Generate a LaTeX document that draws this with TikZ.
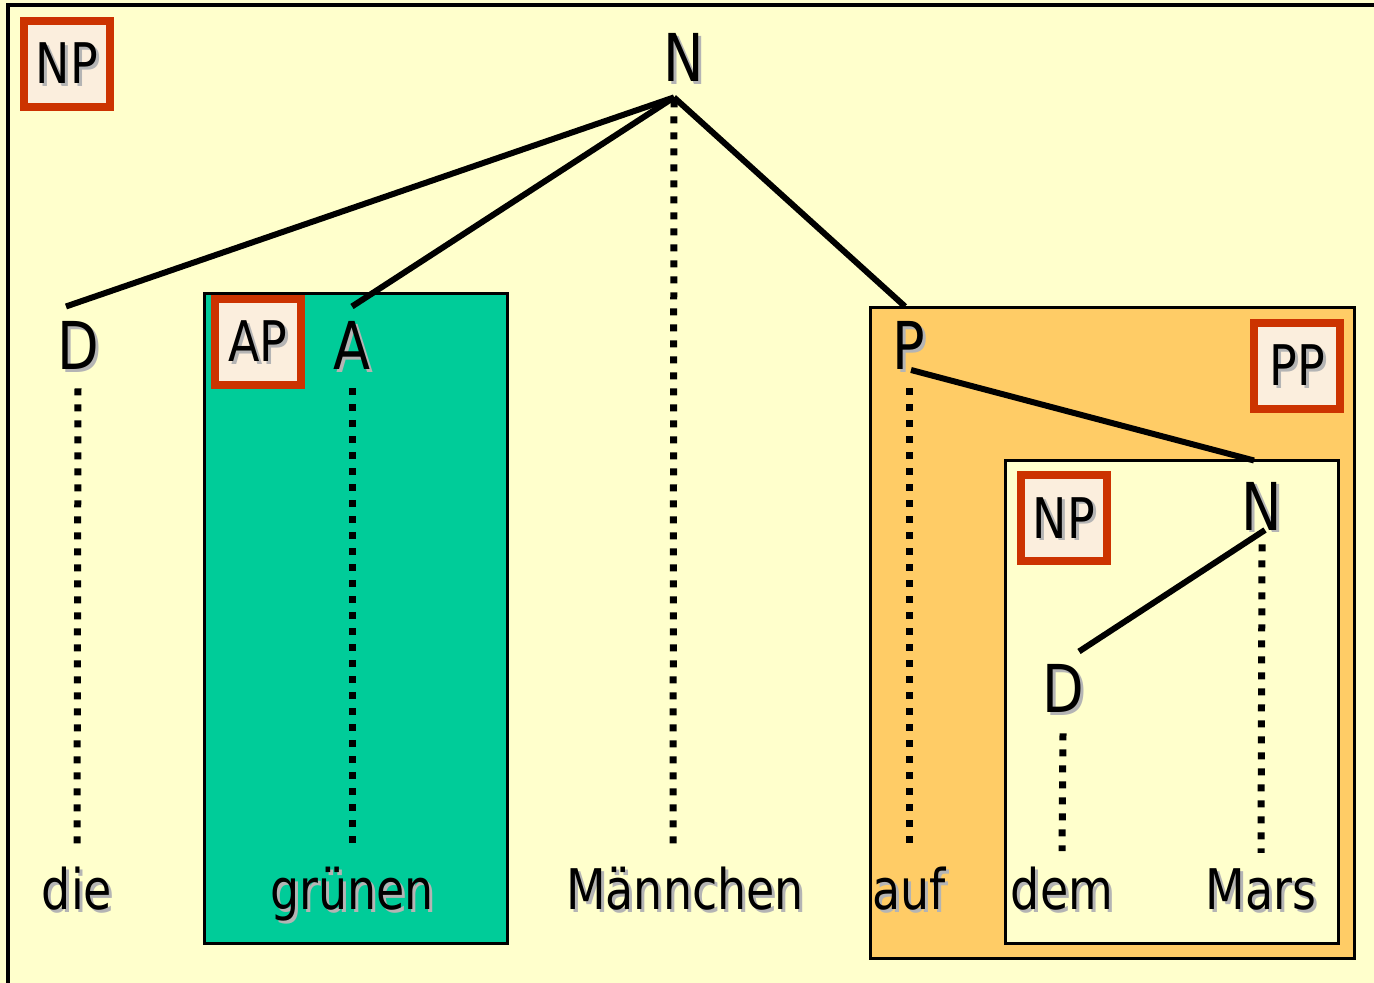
\documentclass[tikz,border=0pt]{standalone}
\usepackage{fontspec}
\setmainfont{DejaVu Sans}[FakeStretch=0.82]
\definecolor{paleyellow}{HTML}{FFFFCC}
\definecolor{apgreen}{HTML}{00CC99}
\definecolor{pporange}{HTML}{FFCC66}
\definecolor{labelred}{HTML}{CC3300}
\definecolor{labelfill}{HTML}{FBEEDD}
\definecolor{shadowgray}{HTML}{B4B4B4}
\newcommand\shtxt[1]{\makebox[0pt][l]{\hspace{1.5pt}\raisebox{-1.5pt}{\textcolor{shadowgray}{#1}}}#1}
\newcommand\catsize{\fontsize{33}{40}\selectfont}
\newcommand\wordsize{\fontsize{28}{34}\selectfont}

\begin{document}
\begin{tikzpicture}[x=0.5pt,y=-0.5pt,
  lbl/.style={draw=labelred,line width=4pt,fill=labelfill,minimum width=43pt,minimum height=43pt,inner sep=0pt,text height=20pt,text depth=0pt,font=\wordsize},
  cat/.style={font=\catsize,inner sep=7.5pt,anchor=base},
  word/.style={font=\wordsize,inner sep=7.5pt,anchor=base},
  tree/.style={line width=3pt},
  dots/.style={line width=3.5pt,dash pattern=on 3.5pt off 4.5pt},
  region/.style={draw,line width=1.5pt}]
\useasboundingbox (0,0) rectangle (1374,983);
\fill[paleyellow] (0,0) rectangle (1374,983);
\draw[line width=2pt] (8,983) -- (8,5) -- (1374,5);
\draw[region,fill=apgreen] (204,294) rectangle (507,943);
\draw[region,fill=pporange] (870,308) rectangle (1354,958);
\draw[region,fill=paleyellow] (1005,460) rectangle (1338,943);
\node[lbl] (np1) at (67,64) {\shtxt{NP}};
\node[lbl] (ap) at (258,342) {\shtxt{AP}};
\node[lbl] (pp) at (1297,366) {\shtxt{PP}};
\node[lbl] (np2) at (1064,518) {\shtxt{NP}};
\node[cat] (n1) at (684,82) {\shtxt{N}};
\node[cat] (d1) at (78,370) {\shtxt{D}};
\node[cat] (a1) at (352,370) {\shtxt{A}};
\node[cat] (p1) at (909,370) {\shtxt{P}};
\node[cat] (n2) at (1262,530) {\shtxt{N}};
\node[cat] (d2) at (1063,712) {\shtxt{D}};
\node[word] (w1) at (77,909) {\shtxt{die}};
\node[word] (w2) at (352,909) {\shtxt{grünen}};
\node[word] (w3) at (685,909) {\shtxt{Männchen}};
\node[word] (w4) at (909,909) {\shtxt{auf}};
\node[word] (w5) at (1062,909) {\shtxt{dem}};
\node[word] (w6) at (1261,909) {\shtxt{Mars}};
\draw[tree] ([xshift=-5pt,yshift=1.5pt]n1.south) -- ([xshift=-6pt]d1.north);
\draw[tree] ([xshift=-5pt,yshift=1.5pt]n1.south) -- (a1.north);
\draw[tree] ([xshift=-5pt,yshift=1.5pt]n1.south) -- ([xshift=-2pt]p1.north);
\draw[tree] ([xshift=1pt]p1.base) -- ([xshift=-4pt,yshift=3pt]n2.north);
\draw[tree] ([xshift=1.5pt]n2.base) -- ([xshift=8pt,yshift=-1.5pt]d2.north);
\draw[dots] ([xshift=-5pt]n1.south) -- ([xshift=-6pt]w3.north);
\draw[dots] (d1.south) -- (w1.north);
\draw[dots] (a1.south) -- (w2.north);
\draw[dots] (p1.south) -- (w4.north);
\draw[dots] ([yshift=2pt]n2.south) -- (w6.north);
\draw[dots] ([yshift=-1.5pt]d2.south) -- (w5.north);
\end{tikzpicture}
\end{document}
